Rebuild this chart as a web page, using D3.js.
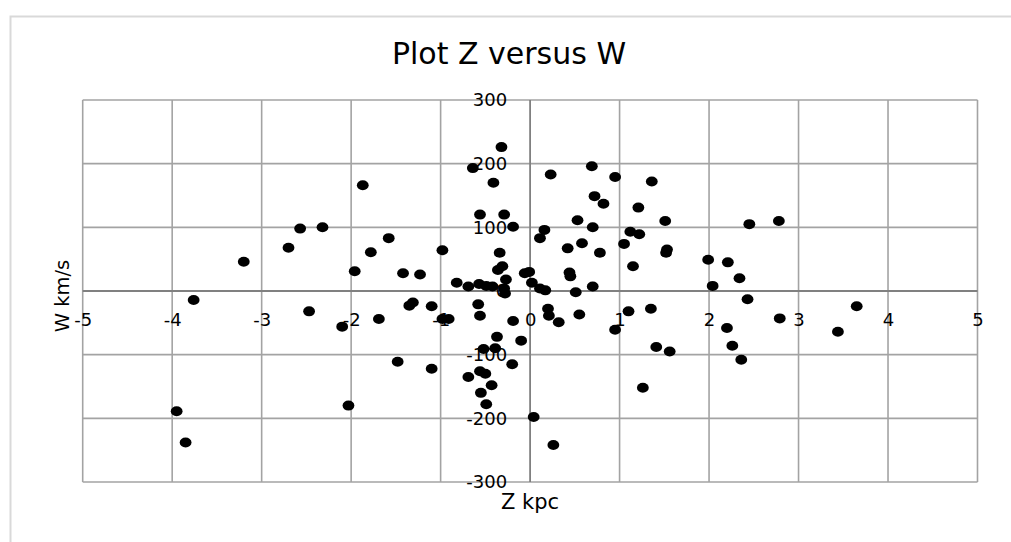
<!DOCTYPE html>
<html>
<head>
<meta charset="utf-8">
<script src="https://cdn.jsdelivr.net/npm/d3@7"></script>
<style>
body { margin: 0; background: #fff; }
svg { display: block; font-family: "DejaVu Sans", sans-serif; }
</style>
</head>
<body>
<svg id="chart" width="1011" height="542"></svg>
<script>
// Z (kpc) and W (km/s), one pair per dot
const zValues = [-3.76, -3.95, -3.85, -3.20, -2.70, -2.57, -2.32, -2.47, -2.10, -2.03,
  -1.96, -1.87, -1.78, -1.69, -1.58, -1.48, -1.42, -1.35, -1.31, -1.23,
  -1.10, -1.10, -0.98, -0.98, -0.91, -0.82, -0.69, -0.69, -0.64, -0.58,
  -0.57, -0.56, -0.56, -0.56, -0.55, -0.52, -0.49, -0.50, -0.49, -0.43,
  -0.42, -0.41, -0.39, -0.37, -0.36, -0.34, -0.32, -0.31, -0.29, -0.27,
  -0.29, -0.28, -0.20, -0.19, -0.19, -0.10, -0.06, -0.01, 0.02, 0.04,
  0.11, 0.11, 0.16, 0.17, 0.20, 0.21, 0.23, 0.26, 0.32, 0.42,
  0.44, 0.45, 0.51, 0.53, 0.55, 0.58, 0.69, 0.70, 0.70, 0.72,
  0.78, 0.82, 0.95, 0.95, 1.05, 1.10, 1.12, 1.15, 1.21, 1.22,
  1.26, 1.35, 1.36, 1.41, 1.51, 1.53, 1.52, 1.56, 1.99, 2.04,
  2.20, 2.21, 2.26, 2.34, 2.36, 2.43, 2.45, 2.78, 2.79, 3.44, 3.65];
const wValues = [-14, -189, -238, 46, 68, 98, 100, -32, -56, -180,
  31, 166, 61, -44, 83, -111, 28, -23, -18, 26,
  -24, -122, 64, -44, -44, 13, 7, -135, 193, -21,
  11, 120, -39, -126, -160, -91, 8, -130, -178, -148,
  7, 170, -90, -72, 33, 60, 226, 39, 120, 18,
  4, -4, -115, 101, -47, -78, 28, 30, 13, -198,
  83, 4, 96, 1, -28, -39, 183, -242, -49, 67,
  29, 23, -2, 111, -37, 75, 196, 100, 7, 149,
  60, 137, 179, -61, 74, -32, 93, 39, 131, 89,
  -152, -28, 172, -88, 110, 65, 60, -95, 49, 8,
  -58, 45, -86, 20, -108, -13, 105, 110, -43, -64, -24];
const xTicks = [-5, -4, -3, -2, -1, 0, 1, 2, 3, 4, 5];
const yTicks = [-300, -200, -100, 0, 100, 200, 300];

const width = 1011, height = 542;
const margin = { top: 100, right: 33.5, bottom: 60, left: 82.7 };

const svg = d3.select("#chart");

// chart frame (only left and top edges show)
svg.append("path")
    .attr("d", `M10.5,${height} V16.5 H${width}`)
    .attr("fill", "none")
    .attr("stroke", "#d9d9d9")
    .attr("stroke-width", 2);

const x = d3.scaleLinear().domain([-5, 5]).range([margin.left, width - margin.right]);
const y = d3.scaleLinear().domain([-300, 300]).range([height - margin.bottom, margin.top]);

// gridlines
const grid = svg.append("g");
grid.selectAll(".vx").data(xTicks.filter(d => d !== 0)).join("line")
    .attr("x1", d => x(d)).attr("x2", d => x(d))
    .attr("y1", y(-300)).attr("y2", y(300))
    .attr("stroke", "#a3a3a3").attr("stroke-width", 1.6);
grid.selectAll(".hy").data(yTicks.filter(d => d !== 0)).join("line")
    .attr("y1", d => y(d)).attr("y2", d => y(d))
    .attr("x1", x(-5)).attr("x2", x(5))
    .attr("stroke", "#a3a3a3").attr("stroke-width", 1.6);

// zero axes, a bit darker
svg.append("line")
    .attr("x1", x(-5)).attr("x2", x(5)).attr("y1", y(0)).attr("y2", y(0))
    .attr("stroke", "#808080").attr("stroke-width", 1.8);
svg.append("line")
    .attr("x1", x(0)).attr("x2", x(0)).attr("y1", y(-300)).attr("y2", y(300))
    .attr("stroke", "#808080").attr("stroke-width", 1.8);

// tick labels, hung off the zero lines like Excel does
const xAxis = svg.append("g")
    .attr("transform", `translate(0,${y(0)})`)
    .call(d3.axisBottom(x).tickValues(xTicks).tickSize(0).tickPadding(22).tickFormat(d => String(d)));
const yAxis = svg.append("g")
    .attr("transform", `translate(${x(0)},0)`)
    .call(d3.axisLeft(y).tickValues(yTicks).tickSize(0).tickPadding(23).tickFormat(d => String(d)));
[xAxis, yAxis].forEach(a => {
    a.select(".domain").remove();
    a.selectAll("text").attr("font-size", 18).attr("fill", "#000").attr("font-family", "DejaVu Sans");
});

// dots
const points = zValues.map((z, i) => ({ z: z, w: wValues[i] }));
svg.append("g").selectAll("ellipse").data(points).join("ellipse")
    .attr("cx", d => x(d.z))
    .attr("cy", d => y(d.w))
    .attr("rx", 5.9)
    .attr("ry", 5)
    .attr("fill", "#000");

// titles
svg.append("text")
    .attr("x", 509).attr("y", 64)
    .attr("text-anchor", "middle")
    .attr("font-size", 30)
    .text("Plot Z versus W");
svg.append("text")
    .attr("x", x(0)).attr("y", 509)
    .attr("text-anchor", "middle")
    .attr("font-size", 21)
    .text("Z kpc");
svg.append("text")
    .attr("transform", `translate(69,296) rotate(-90)`)
    .attr("text-anchor", "middle")
    .attr("font-size", 19.5)
    .text("W km/s");
</script>
</body>
</html>
